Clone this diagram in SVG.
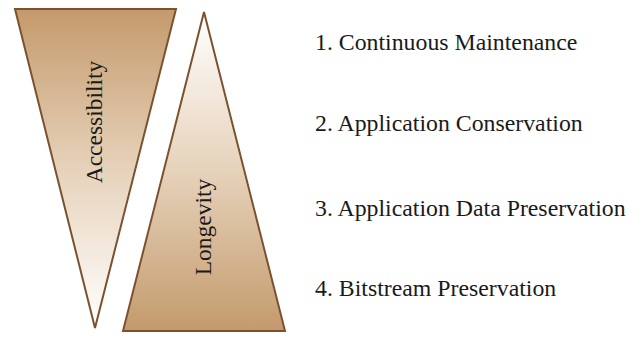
<svg xmlns="http://www.w3.org/2000/svg" width="640" height="344" viewBox="0 0 640 344">
<defs>
<linearGradient id="gDown" x1="0" y1="0" x2="0" y2="1">
<stop offset="0" stop-color="#c49a6c"/>
<stop offset="0.5" stop-color="#e6d2ba"/>
<stop offset="1" stop-color="#ffffff"/>
</linearGradient>
<linearGradient id="gUp" x1="0" y1="0" x2="0" y2="1">
<stop offset="0" stop-color="#ffffff"/>
<stop offset="0.5" stop-color="#e6d2ba"/>
<stop offset="1" stop-color="#c49a6c"/>
</linearGradient>
<style>
.tri{stroke:#7b5230;stroke-width:2;stroke-linejoin:miter}
.lbl{font-family:"Liberation Serif","Times New Roman",serif;font-size:23.5px;fill:#1a1a1a}
.item{font-size:23.8px}
</style>
</defs>
<rect width="640" height="344" fill="#ffffff"/>
<g id="accessibility">
<polygon class="tri" points="15,9 176,9 95,328" fill="url(#gDown)"/>
<text class="lbl" text-anchor="middle" transform="translate(102,122) rotate(-90)">Accessibility</text>
</g>
<g id="longevity">
<polygon class="tri" points="204,12 285,331 123,331" fill="url(#gUp)"/>
<text class="lbl" text-anchor="middle" transform="translate(211,227) rotate(-90)">Longevity</text>
</g>
<g id="connectors"></g>
<g id="item1"><text class="lbl item" x="315" y="50">1. Continuous Maintenance</text></g>
<g id="item2"><text class="lbl item" x="315" y="131">2. Application Conservation</text></g>
<g id="item3"><text class="lbl item" x="315" y="216">3. Application Data Preservation</text></g>
<g id="item4"><text class="lbl item" x="315" y="296">4. Bitstream Preservation</text></g>
</svg>
